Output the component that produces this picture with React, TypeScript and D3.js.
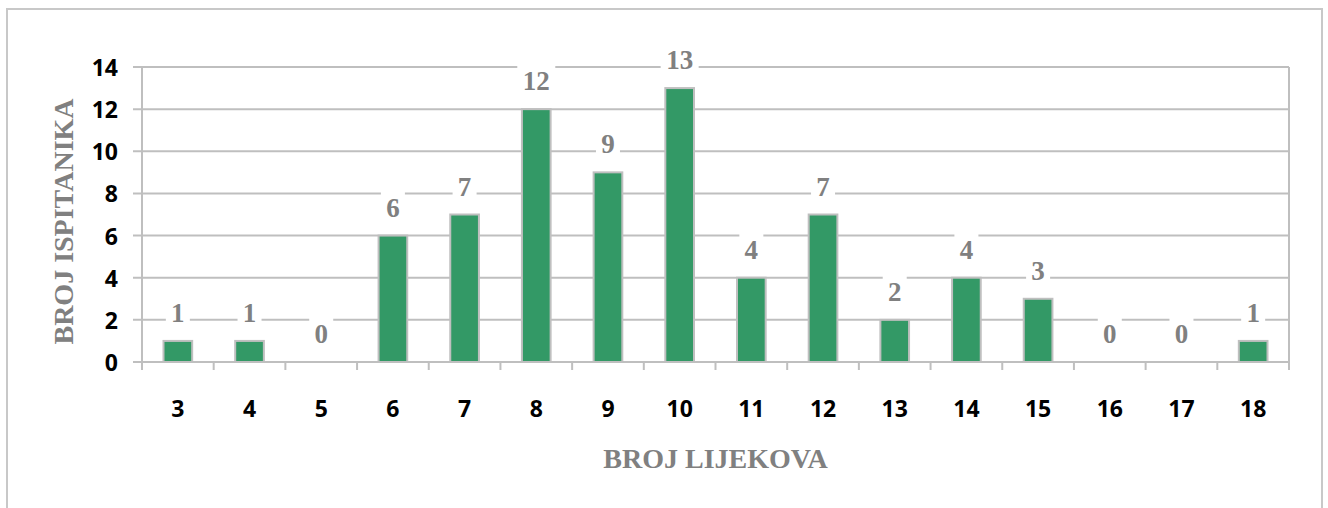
import React from "react";
import * as d3 from "d3";

const categories = ["3", "4", "5", "6", "7", "8", "9", "10", "11", "12", "13", "14", "15", "16", "17", "18"];
const values = [1, 1, 0, 6, 7, 12, 9, 13, 4, 7, 2, 4, 3, 0, 0, 1];
const yTicks = [0, 2, 4, 6, 8, 10, 12, 14];

const W = 1328;
const H = 508;
const left = 142;
const right = 1289;
const top = 67;
const bottom = 362;
const grid = "#bfbfbf";
const green = "#339966";
const labelGray = "#808080";
const serif = "'Liberation Serif', 'Times New Roman', serif";
const sans = "'Open Sans', 'Noto Sans', sans-serif";

export default function App() {
  const x = d3.scaleBand().domain(categories).range([left, right]).paddingInner(0.6).paddingOuter(0.3);
  const band = d3.scaleBand().domain(categories).range([left, right]);
  const y = d3.scaleLinear().domain([0, 14]).range([bottom, top]);

  return (
    <div style={{ position: "absolute", left: 0, top: 0 }}>
      <svg width={W} height={H} style={{ display: "block", background: "#fff" }}>
        <rect x={7} y={9} width={1315} height={540} fill="#fff" stroke="#c8c8c8" strokeWidth={2} />

        {/* gridlines + y ticks */}
        {yTicks.map((t) => (
          <g key={t}>
            <line x1={left - 9} x2={right} y1={y(t)} y2={y(t)} stroke={grid} strokeWidth={2} />
            <text
              x={118}
              y={y(t)}
              textAnchor="end"
              dominantBaseline="central"
              fontFamily={sans}
              fontWeight="bold"
              fontSize={23}
              fill="#000"
            >
              {t}
            </text>
          </g>
        ))}

        {/* axis lines */}
        <line x1={left} x2={left} y1={top} y2={bottom + 8} stroke={grid} strokeWidth={2} />
        <line x1={right} x2={right} y1={top} y2={bottom + 8} stroke={grid} strokeWidth={2} />
        {categories.map((c) => (
          <line
            key={"t" + c}
            x1={band(c)!}
            x2={band(c)!}
            y1={bottom}
            y2={bottom + 8}
            stroke={grid}
            strokeWidth={2}
          />
        ))}

        {/* bars */}
        {categories.map((c, i) =>
          values[i] > 0 ? (
            <rect
              key={"b" + c}
              x={x(c)!}
              y={y(values[i])}
              width={x.bandwidth()}
              height={y(0) - y(values[i])}
              fill={green}
              stroke={grid}
              strokeWidth={2}
            />
          ) : null
        )}

        {/* value labels */}
        {categories.map((c, i) => {
          const cx = band(c)! + band.bandwidth() / 2;
          const cy = y(values[i]) - 28;
          const w = String(values[i]).length * 14 + 10;
          return (
            <g key={"l" + c}>
              <rect x={cx - w / 2} y={cy - 16} width={w} height={32} fill="#fff" />
              <text
                x={cx}
                y={cy}
                textAnchor="middle"
                dominantBaseline="central"
                fontFamily={serif}
                fontWeight="bold"
                fontSize={27}
                fill={labelGray}
              >
                {values[i]}
              </text>
            </g>
          );
        })}

        {/* x tick labels */}
        {categories.map((c) => (
          <text
            key={"x" + c}
            x={band(c)! + band.bandwidth() / 2}
            y={408}
            textAnchor="middle"
            dominantBaseline="central"
            fontFamily={sans}
            fontWeight="bold"
            fontSize={23}
            fill="#000"
          >
            {c}
          </text>
        ))}

        {/* axis titles */}
        <text
          x={(left + right) / 2}
          y={458}
          textAnchor="middle"
          dominantBaseline="central"
          fontFamily={serif}
          fontWeight="bold"
          fontSize={28}
          fill={labelGray}
        >
          BROJ LIJEKOVA
        </text>
        <text
          transform={`translate(63,${(top + bottom) / 2 + 7}) rotate(-90)`}
          textAnchor="middle"
          dominantBaseline="central"
          fontFamily={serif}
          fontWeight="bold"
          fontSize={28}
          fill={labelGray}
        >
          BROJ ISPITANIKA
        </text>
      </svg>
    </div>
  );
}
